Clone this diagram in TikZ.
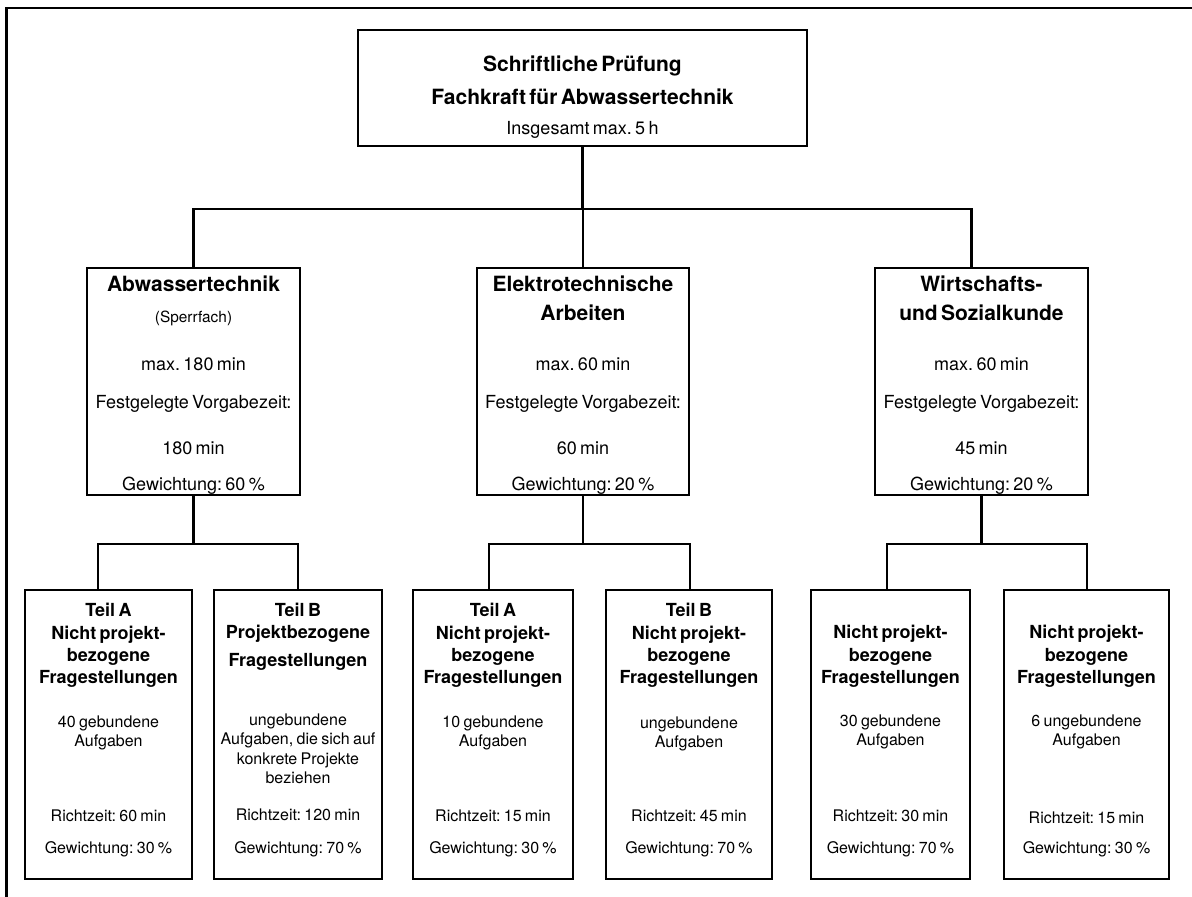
\documentclass[tikz,border=0pt]{standalone}
\usepackage{fontspec}
\setmainfont{TeX Gyre Heros}
\frenchspacing
\newcommand\rowat[3]{{\fontsize{#1}{#2}\selectfont #3\par}}
\newcommand\rowbf[3]{{\fontsize{#1}{#2}\selectfont\bfseries #3\par}}

\begin{document}
\begin{tikzpicture}[x=1pt, y=-1pt,
	box/.style={draw=black, line width=2.8pt, rectangle, inner sep=0pt},
	wire/.style={draw=black, line width=2.8pt},
	txt/.style={anchor=base, align=center, inner sep=0pt}]
	\useasboundingbox (0,0) rectangle (1192,897);
	% Rahmen
	\draw[wire] (6.5,897) -- (6.5,8) -- (1192,8);
	
	% Kasten
	\node[box, minimum width=449pt, minimum height=116pt] (pruefung) at (582.5,88){};
	\node[box, minimum width=213pt, minimum height=227pt] (abw) at (193.5,381.5){};
	\node[box, minimum width=212pt, minimum height=227pt] (elek) at (583,381.5){};
	\node[box, minimum width=213pt, minimum height=227pt] (wiso) at (981.5,381.5){};
	\node[box, minimum width=167pt, minimum height=289pt] (abwA) at (108.5,734.5){};
	\node[box, minimum width=168pt, minimum height=289pt] (abwB) at (298,734.5){};
	\node[box, minimum width=160pt, minimum height=289pt] (elekA) at (493,734.5){};
	\node[box, minimum width=166pt, minimum height=289pt] (elekB) at (689,734.5){};
	\node[box, minimum width=159pt, minimum height=289pt] (wisoA) at (890.5,734.5){};
	\node[box, minimum width=165pt, minimum height=289pt] (wisoB) at (1086.5,734.5){};
	
	% Texte
	\node[txt, text width=449pt] (pruefung-t) at (582.5,71){\rowbf{21}{33}{Schriftliche Prüfung}\rowbf{21}{33}{Fachkraft für Abwassertechnik}\rowat{18}{30.6}{Insgesamt max. 5 h}};
	
	\node[txt, text width=213pt] (abw-t) at (193.5,291){\rowbf{21}{29}{Abwassertechnik}\rowat{15.4}{31.5}{(Sperrfach)}\rowat{18}{47.5}{max. 180 min}\rowat{18}{38}{Festgelegte Vorgabezeit:}\rowat{18}{46.5}{180 min}\rowat{18}{36}{Gewichtung: 60 \%}};
	\node[txt, text width=212pt] (elek-t) at (583,291){\rowbf{21}{29}{Elektrotechnische}\rowbf{21}{29}{Arbeiten}\rowat{18}{50}{max. 60 min}\rowat{18}{38}{Festgelegte Vorgabezeit:}\rowat{18}{46}{60 min}\rowat{18}{36}{Gewichtung: 20 \%}};
	\node[txt, text width=213pt] (wiso-t) at (981.5,291){\rowbf{21}{29}{Wirtschafts-}\rowbf{21}{29}{und Sozialkunde}\rowat{18}{50}{max. 60 min}\rowat{18}{38}{Festgelegte Vorgabezeit:}\rowat{18}{46}{45 min}\rowat{18}{36}{Gewichtung: 20 \%}};
	
	\node[txt, text width=167pt] (abwA-t) at (108.5,616.7){\rowbf{18}{22.4}{Teil A}\rowbf{18}{22.4}{Nicht projekt-}\rowbf{18}{22.4}{bezogene}\rowbf{18}{22.4}{Fragestellungen}\rowat{16}{43.5}{40 gebundene}\rowat{16}{19}{Aufgaben}\rowat{16}{75.1}{Richtzeit: 60 min}\rowat{16}{32}{Gewichtung: 30 \%}};
	\node[txt, text width=168pt] (abwB-t) at (298,616.7){\rowbf{18}{22}{Teil B}\rowbf{18}{22}{Projektbezogene}\rowbf{18}{28}{Fragestellungen}\rowat{16}{58.3}{ungebundene}\rowat{16}{19.5}{Aufgaben, die sich auf}\rowat{16}{19.5}{konkrete Projekte}\rowat{16}{19.5}{beziehen}\rowat{16}{37}{Richtzeit: 120 min}\rowat{16}{32.5}{Gewichtung: 70 \%}};
	\node[txt, text width=160pt] (elekA-t) at (493,616.7){\rowbf{18}{22.4}{Teil A}\rowbf{18}{22.4}{Nicht projekt-}\rowbf{18}{22.4}{bezogene}\rowbf{18}{22.4}{Fragestellungen}\rowat{16}{43.1}{10 gebundene}\rowat{16}{19}{Aufgaben}\rowat{16}{75.5}{Richtzeit: 15 min}\rowat{16}{32}{Gewichtung: 30 \%}};
	\node[txt, text width=166pt] (elekB-t) at (689,616.7){\rowbf{18}{22.4}{Teil B}\rowbf{18}{22.4}{Nicht projekt-}\rowbf{18}{22.4}{bezogene}\rowbf{18}{22.4}{Fragestellungen}\rowat{16}{44.1}{ungebundene}\rowat{16}{19}{Aufgaben}\rowat{16}{74.5}{Richtzeit: 45 min}\rowat{16}{32}{Gewichtung: 70 \%}};
	\node[txt, text width=159pt] (wisoA-t) at (890.5,638.7){\rowbf{18}{22.4}{Nicht projekt-}\rowbf{18}{22.4}{bezogene}\rowbf{18}{22.4}{Fragestellungen}\rowat{16}{43}{30 gebundene}\rowat{16}{19}{Aufgaben}\rowat{16}{76}{Richtzeit: 30 min}\rowat{16}{31.5}{Gewichtung: 70 \%}};
	\node[txt, text width=165pt] (wisoB-t) at (1086.5,638.7){\rowbf{18}{22.4}{Nicht projekt-}\rowbf{18}{22.4}{bezogene}\rowbf{18}{22.4}{Fragestellungen}\rowat{16}{43}{6 ungebundene}\rowat{16}{19}{Aufgaben}\rowat{16}{77.5}{Richtzeit: 15 min}\rowat{16}{30}{Gewichtung: 30 \%}};
	
	% Verbindungen
	\coordinate (bus) at (582.5,209);
	\coordinate (abwbus) at (193.5,544);
	\coordinate (elekbus) at (583,544);
	\coordinate (wisobus) at (981.5,544);
	
	\draw[wire] (pruefung.south) -- (bus);
	\draw[wire] (abw.north) |- (bus) -| ([xshift=-10pt]wiso.north);
	\draw[wire] (elek.north) -- (elek.north |- bus);
	
	\draw[wire] (abw.south) -- (abwbus);
	\draw[wire] ([xshift=-10.5pt]abwA.north) |- (abwbus) -| (abwB.north);
	\draw[wire] (elek.south) -- (elekbus);
	\draw[wire] ([xshift=-4pt]elekA.north) |- (elekbus) -| ([xshift=1pt]elekB.north);
	\draw[wire] (wiso.south) -- (wisobus);
	\draw[wire] ([xshift=-3.5pt]wisoA.north) |- (wisobus) -| ([xshift=0.5pt]wisoB.north);
\end{tikzpicture}
\end{document}
